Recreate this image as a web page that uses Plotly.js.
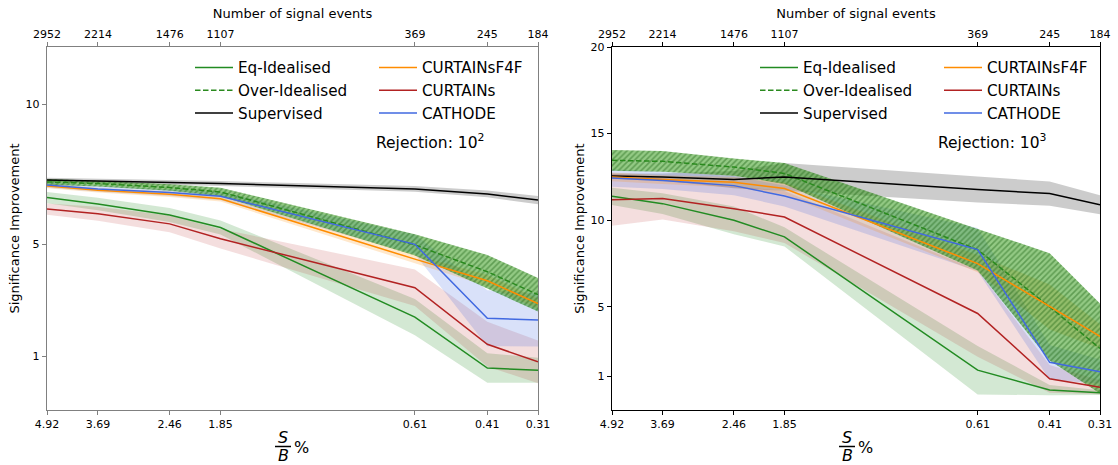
<!DOCTYPE html>
<html><head><meta charset="utf-8">
<script src="https://cdn.plot.ly/plotly-3.0.1.min.js"></script>
<style>body{margin:0;background:#fff}#c{width:1118px;height:465px}</style>
</head><body><div id="c"></div>
<script>
// ---- data ----
const signalEvents = [2952, 2214, 1476, 1107, 369, 245, 184];
const sbLabels = ['4.92', '3.69', '2.46', '1.85', '0.61', '0.41', '0.31'];
const eventLabels = ['2952', '2214', '1476', '1107', '369', '245', '184'];

// Rejection 10^2 (left)
const eqIdeal2 = [6.67, 6.44, 6.05, 5.6, 2.40, 0.58, 0.50];
const eqIdeal2Err = [0.2, 0.22, 0.25, 0.25, 0.65, 0.53, 0.45];
const overIdeal2 = [7.23, 7.17, 7.03, 6.87, 4.98, 4.02, 3.2];
const overIdeal2Err = [0.1, 0.1, 0.12, 0.15, 0.38, 0.6, 0.6];
const supervised2 = [7.3, 7.26, 7.21, 7.17, 6.98, 6.8, 6.58];
const supervised2Err = [0.08, 0.08, 0.08, 0.09, 0.1, 0.12, 0.15];
const curtainsF4F2 = [7.08, 6.93, 6.79, 6.63, 4.47, 3.7, 2.88];
const curtainsF4F2Err = [0.08, 0.08, 0.1, 0.1, 0.15, 0.2, 0.18];
const curtains2 = [6.26, 6.09, 5.73, 5.2, 3.45, 1.43, 0.8];
const curtains2Err = [0.2, 0.25, 0.3, 0.35, 0.65, 0.8, 0.76];
const cathode2 = [7.12, 6.98, 6.85, 6.72, 5.0, 2.36, 2.3];
const cathode2Err = [0.1, 0.1, 0.12, 0.15, 0.35, 1.0, 0.95];

// Rejection 10^3 (right)
const eqIdeal3 = [11.38, 10.96, 10.0, 9.04, 1.35, 0.2, 0.05];
const eqIdeal3Err = [0.5, 0.6, 0.8, 0.55, 1.4, 0.3, 0.14];
const overIdeal3 = [13.46, 13.4, 13.07, 12.7, 8.3, 5.0, 2.6];
const overIdeal3Err = [0.6, 0.6, 0.5, 0.6, 1.2, 3.1, 2.6];
const supervised3 = [12.55, 12.5, 12.35, 12.5, 11.77, 11.54, 10.9];
const supervised3Err = [0.15, 0.2, 0.5, 0.8, 0.75, 0.7, 0.55];
const curtainsF4F3 = [12.5, 12.35, 12.2, 11.83, 7.5, 5.0, 3.3];
const curtainsF4F3Err = [0.25, 0.25, 0.3, 0.35, 0.5, 1.3, 0.7];
const curtains3 = [11.19, 11.25, 10.67, 10.19, 4.62, 0.85, 0.36];
const curtains3Err = [1.5, 1.2, 1.3, 1.5, 2.5, 0.8, 0.4];
const cathode3 = [12.44, 12.3, 12.0, 11.4, 8.31, 1.8, 1.26];
const cathode3Err = [0.5, 0.5, 0.55, 0.6, 1.25, 1.0, 0.7];

// ---- styles ----
const C = {
  eq: '#228b22', over: '#2a8a1e', sup: '#000000',
  f4f: '#ff8c00', cur: '#b22222', cat: '#4169e1'
};
function rgba(hex, a) {
  const n = parseInt(hex.slice(1), 16);
  return `rgba(${(n >> 16) & 255},${(n >> 8) & 255},${n & 255},${a})`;
}
function band(mean, err, color, xa, ya, alpha, hatched) {
  const xs = signalEvents.concat(signalEvents.slice().reverse());
  const up = mean.map((v, i) => v + err[i]);
  const lo = mean.map((v, i) => v - err[i]).reverse();
  const t = {
    x: xs, y: up.concat(lo), xaxis: xa, yaxis: ya, mode: 'lines',
    line: {width: 0, color: 'rgba(0,0,0,0)'}, fill: 'toself',
    fillcolor: rgba(color, alpha), showlegend: false, hoverinfo: 'skip'
  };
  if (hatched) {
    t.fillcolor = 'rgba(40,150,10,0.5)';
    t.fillpattern = {shape: '/', fgcolor: 'rgba(20,90,10,0.4)', bgcolor: 'rgba(40,150,10,0.5)', size: 4, solidity: 0.4};
  }
  return t;
}
function line(mean, name, color, xa, ya, dash, legend) {
  return {x: signalEvents, y: mean, xaxis: xa, yaxis: ya, mode: 'lines', name: name,
    line: {color: color, width: 1.5, dash: dash || 'solid'}, legend: legend};
}

function panel(xa, ya, legA, legB, d) {
  return [
    band(d.eq[0], d.eq[1], C.eq, xa, ya, 0.2),
    band(d.sup[0], d.sup[1], C.sup, xa, ya, 0.2),
    band(d.cur[0], d.cur[1], C.cur, xa, ya, 0.15),
    band(d.cat[0], d.cat[1], C.cat, xa, ya, 0.2),
    band(d.f4f[0], d.f4f[1], C.f4f, xa, ya, 0.2),
    band(d.over[0], d.over[1], C.over, xa, ya, 0.5, true),
    line(d.eq[0], 'Eq-Idealised', C.eq, xa, ya, 'solid', legA),
    line(d.over[0], 'Over-Idealised', C.over, xa, ya, '5.5px,2.5px', legA),
    line(d.sup[0], 'Supervised', C.sup, xa, ya, 'solid', legA),
    line(d.f4f[0], 'CURTAINsF4F', C.f4f, xa, ya, 'solid', legB),
    line(d.cur[0], 'CURTAINs', C.cur, xa, ya, 'solid', legB),
    line(d.cat[0], 'CATHODE', C.cat, xa, ya, 'solid', legB)
  ];
}

const left = {eq: [eqIdeal2, eqIdeal2Err], over: [overIdeal2, overIdeal2Err], sup: [supervised2, supervised2Err],
  f4f: [curtainsF4F2, curtainsF4F2Err], cur: [curtains2, curtains2Err], cat: [cathode2, cathode2Err]};
const right = {eq: [eqIdeal3, eqIdeal3Err], over: [overIdeal3, overIdeal3Err], sup: [supervised3, supervised3Err],
  f4f: [curtainsF4F3, curtainsF4F3Err], cur: [curtains3, curtains3Err], cat: [cathode3, cathode3Err]};

const data = panel('x', 'y', 'legend', 'legend3', left).concat(panel('x2', 'y2', 'legend2', 'legend4', right));
// invisible carriers for the top (signal-event) axes
data.push({x: signalEvents, y: supervised2, xaxis: 'x3', yaxis: 'y', mode: 'lines', opacity: 0, showlegend: false, hoverinfo: 'skip'});
data.push({x: signalEvents, y: supervised3, xaxis: 'x4', yaxis: 'y2', mode: 'lines', opacity: 0, showlegend: false, hoverinfo: 'skip'});

const FONT = 'DejaVu Sans, sans-serif';
const xr = [Math.log10(2952), Math.log10(184)];
const dL = [47 / 1118, 538 / 1118], dR = [612 / 1118, 1100 / 1118], dY = [1 - 410 / 465, 1 - 47 / 465];

function xBottom(dom, anchor, col) {
  return {domain: dom, anchor: anchor, type: 'log', range: xr, tickmode: 'array', tickvals: signalEvents, ticktext: sbLabels,
    showgrid: false, zeroline: false, showline: true, mirror: true, linecolor: col, linewidth: 1.2,
    ticks: 'outside', ticklen: 4, tickcolor: col, tickfont: {family: FONT, size: 11, color: '#000'}};
}
function xTop(over, anchor, col) {
  return {overlaying: over, anchor: anchor, side: 'top', type: 'log', range: xr, tickmode: 'array', tickvals: signalEvents, ticktext: eventLabels,
    showgrid: false, zeroline: false, showline: false, ticks: 'outside', ticklen: 4, tickcolor: col,
    tickfont: {family: FONT, size: 11, color: '#000'},
    title: {text: 'Number of signal events', font: {family: FONT, size: 13, color: '#000'}, standoff: 6}};
}
function yAx(dom, anchor, range, ticks, col) {
  return {domain: dom, anchor: anchor, range: range, tickmode: 'array', tickvals: ticks, ticktext: ticks.map(String),
    showgrid: false, zeroline: false, showline: true, mirror: true, linecolor: col, linewidth: 1.2,
    ticks: 'outside', ticklen: 4, tickcolor: col, tickfont: {family: FONT, size: 11, color: '#000'},
    title: {text: 'Significance Improvement', font: {family: FONT, size: 13, color: '#000'}, standoff: 3}};
}

function sbAnn(cx) {
  const f = {family: FONT, size: 16, color: '#000'};
  return [
    {xref: 'paper', yref: 'paper', x: cx / 1118, y: 1 - 437 / 465, text: '<i>S</i>', showarrow: false, font: f, xanchor: 'center', yanchor: 'middle'},
    {xref: 'paper', yref: 'paper', x: cx / 1118, y: 1 - 455 / 465, text: '<i>B</i>', showarrow: false, font: f, xanchor: 'center', yanchor: 'middle'},
    {xref: 'paper', yref: 'paper', x: (cx + 9) / 1118, y: 1 - 447 / 465, text: '%', showarrow: false, font: {family: FONT, size: 16, color: '#000'}, xanchor: 'left', yanchor: 'middle'}
  ];
}
function bar(cx) {
  return {type: 'line', xref: 'paper', yref: 'paper', x0: (cx - 8) / 1118, x1: (cx + 8) / 1118, y0: 1 - 446.5 / 465, y1: 1 - 446.5 / 465, line: {color: '#000', width: 1.5}};
}

const legendBase = {orientation: 'v', xanchor: 'left', yanchor: 'top', traceorder: 'normal',
  bgcolor: 'rgba(0,0,0,0)', borderwidth: 0, font: {family: FONT, size: 15.2, color: '#000'}, itemwidth: 38, tracegroupgap: 0};
const legTop = 1 - 51 / 465;

const layout = {
  width: 1118, height: 465, margin: {l: 0, r: 0, t: 0, b: 0}, paper_bgcolor: '#fff', plot_bgcolor: '#fff',
  font: {family: FONT, color: '#000'}, showlegend: true,
  xaxis: xBottom(dL, 'y', '#808080'),
  xaxis2: xBottom(dR, 'y2', '#000'),
  xaxis3: xTop('x', 'y', '#808080'),
  xaxis4: xTop('x2', 'y2', '#000'),
  yaxis: yAx(dY, 'x', [-0.92, 12.05], [1, 5, 10], '#808080'),
  yaxis2: yAx(dY, 'x2', [-0.95, 20.0], [1, 5, 10, 15, 20], '#000'),
  legend: Object.assign({}, legendBase, {x: 190 / 1118, y: legTop}),
  legend3: Object.assign({}, legendBase, {x: 374 / 1118, y: legTop}),
  legend2: Object.assign({}, legendBase, {x: 755 / 1118, y: legTop}),
  legend4: Object.assign({}, legendBase, {x: 939 / 1118, y: legTop}),
  annotations: [
    {xref: 'paper', yref: 'paper', x: 430 / 1118, y: 1 - 141 / 465, text: 'Rejection: 10<sup>2</sup>', showarrow: false,
      font: {family: FONT, size: 15.5, color: '#000'}, xanchor: 'center', yanchor: 'middle'},
    {xref: 'paper', yref: 'paper', x: 992 / 1118, y: 1 - 141 / 465, text: 'Rejection: 10<sup>3</sup>', showarrow: false,
      font: {family: FONT, size: 15.5, color: '#000'}, xanchor: 'center', yanchor: 'middle'}
  ].concat(sbAnn(283), sbAnn(847)),
  shapes: [bar(283), bar(847)]
};

Plotly.newPlot('c', data, layout, {displayModeBar: false, staticPlot: true});
</script></body></html>
